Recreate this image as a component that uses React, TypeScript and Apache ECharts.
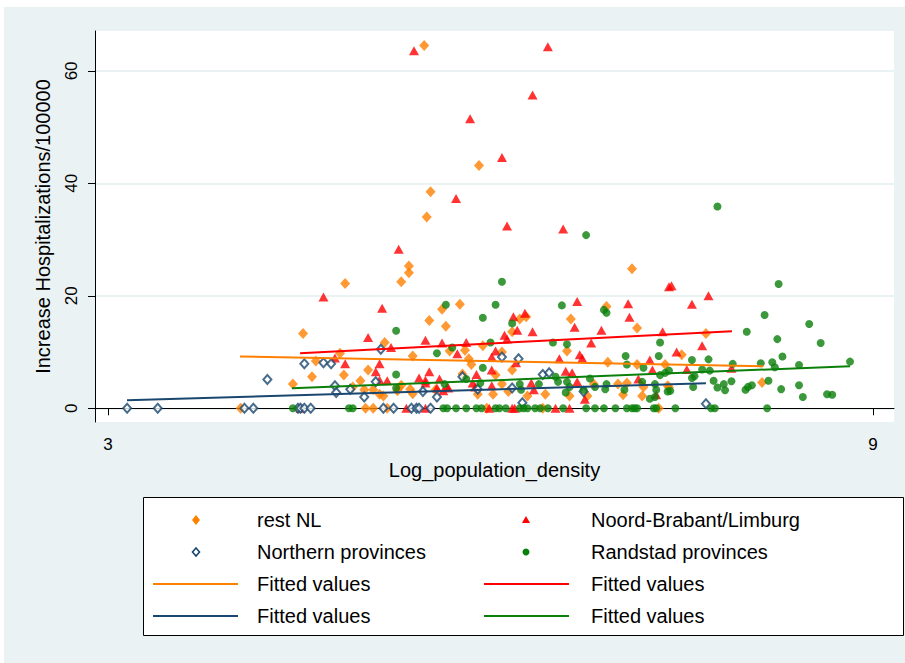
import React, { useEffect, useRef } from "react";
import * as echarts from "echarts";

// ---- data (x = Log_population_density, y = Increase Hospitalizations/100000)
const restNL: number[][] = [
  [5.48, 64.5], [5.91, 43.2], [5.53, 38.5], [5.5, 34.0], [4.86, 22.2], [4.53, 13.3], [4.82, 9.8], [4.63, 8.4],
  [4.6, 5.6], [4.85, 5.9], [4.45, 4.3], [4.04, 0], [5.17, 11.7], [5.04, 6.8], [4.98, 4.9], [4.92, 3.8],
  [5.01, 3.3], [5.08, 3.3], [5.13, 2.5], [5.16, 2.2], [5.27, 3.1], [5.02, 0], [5.08, 0], [5.19, 0],
  [5.36, 25.3], [5.36, 24.1], [5.3, 22.5], [5.76, 18.5], [5.62, 17.6], [5.52, 15.6], [5.65, 14.6], [5.68, 10.2],
  [5.94, 11.1], [5.8, 10.3], [5.39, 9.3], [5.83, 8.8], [5.85, 7.8], [5.78, 6.1], [6.04, 5.9], [6.09, 4.3],
  [5.28, 3.6], [5.57, 3.3], [5.39, 2.6], [5.9, 2.5], [6.02, 2.5], [5.97, 0], [6.17, 6.8], [5.3, 4.1],
  [5.37, 3.4], [6.14, 3.0], [7.11, 24.8], [6.91, 18.1], [6.28, 16.3], [6.23, 15.9], [6.63, 15.9], [7.15, 14.3],
  [6.6, 10.2], [6.92, 8.2], [7.15, 7.8], [7.37, 7.8], [6.29, 2.2], [6.43, 2.5], [6.62, 2.2], [6.81, 4.3],
  [7.0, 4.3], [7.07, 4.5], [7.04, 2.4], [7.19, 2.2], [7.2, 3.8], [7.39, 4.0], [6.41, 0], [7.32, 0],
  [7.69, 13.3], [7.5, 9.5], [8.13, 4.6], [7.4, 3.7], [6.17, 13.6], [6.76, 2.2], [6.09, 10.0]
];
const brabantLimburg: number[][] = [
  [5.4, 63.6], [6.45, 64.3], [6.33, 55.7], [5.84, 51.5], [6.09, 44.6], [5.73, 37.3], [4.69, 19.8], [4.78, 8.95],
  [4.86, 7.9], [5.15, 17.8], [5.04, 12.6], [5.22, 10.8], [5.13, 7.9], [5.1, 6.5], [5.19, 4.9], [5.13, 5.0],
  [6.13, 32.4], [5.28, 28.3], [5.49, 12.1], [5.62, 11.6], [5.81, 11.7], [6.11, 13.0], [6.13, 12.3], [6.04, 10.2],
  [5.74, 9.7], [6.01, 9.1], [5.52, 6.5], [5.44, 5.4], [5.49, 5.0], [5.49, 4.5], [5.6, 5.2], [5.89, 6.0],
  [6.01, 6.8], [5.66, 3.8], [5.86, 4.5], [6.01, 4.0], [5.58, 3.6], [5.63, 3.1], [5.34, 0], [5.49, 0],
  [5.99, 0], [6.18, 16.3], [5.67, 3.6], [5.88, 3.8], [6.57, 31.9], [7.4, 21.6], [6.68, 19.0], [7.08, 18.6],
  [6.27, 16.9], [7.09, 16.2], [6.66, 14.4], [6.21, 13.9], [6.33, 13.6], [6.87, 13.9], [7.35, 13.6], [6.79, 11.6],
  [6.2, 8.1], [6.54, 8.8], [6.7, 9.5], [6.72, 8.9], [7.25, 8.6], [6.59, 6.6], [6.64, 6.3], [7.27, 6.8],
  [6.68, 4.7], [7.16, 5.2], [6.32, 4.5], [6.34, 3.3], [7.3, 2.4], [6.74, 1.6], [6.17, 0], [6.19, 0],
  [6.51, 0], [6.62, 0], [7.42, 21.8], [7.71, 20.0], [7.58, 18.5], [7.66, 11.1], [7.46, 10.0], [7.89, 7.1],
  [7.54, 6.9], [4.51, 0]
];
const northern: number[][] = [
  [4.54, 7.9], [4.69, 8.1], [4.75, 7.9], [4.25, 5.1], [4.78, 4.0], [4.79, 2.8], [3.15, 0], [3.39, 0],
  [4.07, 0], [4.14, 0], [4.49, 0], [4.51, 0], [4.54, 0], [4.59, 0], [5.14, 10.5], [5.1, 4.7],
  [4.9, 3.4], [5.01, 2.0], [5.16, 0], [5.24, 0], [6.09, 9.1], [5.78, 5.6], [5.47, 3.0], [5.58, 2.0],
  [5.38, 0], [5.42, 0], [5.44, 0], [5.53, 0], [5.9, 3.4], [6.17, 3.6], [6.22, 8.8], [6.41, 6.0],
  [6.46, 6.3], [6.73, 3.0], [6.25, 1.0], [7.69, 0.8]
];
const randstad: number[][] = [
  [4.45, 0], [4.89, 0], [4.92, 0], [5.26, 13.8], [5.26, 6.0], [5.26, 3.6], [6.09, 22.5], [5.65, 18.4],
  [6.04, 18.4], [5.94, 16.1], [5.7, 10.8], [6.0, 11.7], [5.58, 9.8], [5.94, 7.2], [5.81, 5.2], [5.64, 4.3],
  [5.92, 4.5], [5.63, 0], [5.66, 0], [5.73, 0], [5.81, 0], [5.89, 0], [5.93, 0], [6.04, 0],
  [6.07, 0], [6.12, 0], [6.17, 15.1], [6.75, 30.8], [6.56, 18.3], [6.89, 17.5], [6.91, 17.0], [6.49, 11.7],
  [6.6, 11.4], [7.33, 11.7], [7.06, 9.3], [7.07, 7.8], [7.32, 9.3], [7.2, 7.2], [6.51, 5.6], [6.53, 4.7],
  [6.6, 4.7], [6.78, 5.3], [7.19, 4.7], [7.33, 5.9], [7.37, 6.3], [6.23, 4.3], [6.24, 3.3], [6.38, 4.3],
  [6.62, 3.8], [6.59, 2.8], [6.73, 3.3], [6.82, 3.8], [6.91, 4.3], [6.9, 3.4], [7.05, 3.3], [7.25, 1.7],
  [7.29, 2.0], [7.29, 4.3], [7.3, 3.3], [7.39, 3.0], [6.23, 0], [6.26, 0], [6.29, 0], [6.35, 0],
  [6.39, 0], [6.45, 0], [6.57, 0], [6.75, 0], [6.82, 0], [6.89, 0], [6.98, 0], [7.07, 0],
  [7.11, 0], [7.15, 0], [7.28, 0], [7.3, 0], [7.78, 35.9], [8.26, 22.1], [8.15, 16.6], [8.5, 15.0],
  [8.01, 13.6], [8.25, 12.3], [8.59, 11.6], [7.58, 8.6], [7.71, 8.7], [8.29, 9.2], [8.12, 8.0], [8.21, 8.2],
  [8.23, 7.3], [8.42, 7.7], [8.82, 8.3], [7.9, 7.9], [7.66, 6.9], [7.72, 6.7], [7.4, 6.7], [7.58, 5.4],
  [7.6, 5.7], [7.75, 4.9], [7.89, 4.8], [7.78, 3.7], [7.83, 4.3], [7.84, 3.2], [8.0, 3.3], [8.02, 3.8],
  [8.05, 4.1], [8.18, 4.9], [8.28, 3.4], [8.42, 4.1], [8.45, 2.0], [8.64, 2.5], [8.68, 2.4], [7.41, 3.1],
  [7.59, 3.8], [7.45, 0], [7.73, 0], [7.76, 0], [8.17, 0], [7.13, 0]
];
// fitted values (end points of each linear fit)
const fitRest: number[][] = [[4.035, 9.2], [8.14, 7.48]];
const fitBrabant: number[][] = [[4.506, 9.8], [7.894, 13.7]];
const fitNorth: number[][] = [[3.149, 1.42], [7.69, 4.45]];
const fitRandstad: number[][] = [[4.443, 3.56], [8.82, 7.48]];

const xTicks = [3, 9];
const yTicks = [0, 20, 40, 60];
const legendLabels = [
  "rest NL", "Noord-Brabant/Limburg", "Northern provinces", "Randstad provinces",
  "Fitted values", "Fitted values", "Fitted values", "Fitted values"
];

const ORANGE = "#FF8000";
const RED = "#FF0000";
const NAVY = "#1A476F";
const GREEN = "#0A800A";
const BG = "#EAF2F3";
const FONT = "Liberation Sans, Arial, sans-serif";

export default function App() {
  const ref = useRef<HTMLDivElement>(null);
  useEffect(() => {
    document.body.style.margin = "0";
    if (!ref.current) return;
    const chart = echarts.init(ref.current, null, { renderer: "svg" });

    const legendX1 = 196, legendX2 = 526, textX1 = 257, textX2 = 591;
    const rows = [520, 552, 584, 616];
    const legendText = (i: number, x: number, y: number) => ({
      type: "text", x, y,
      style: { text: legendLabels[i], fontSize: 20, fontFamily: FONT, fill: "#000", textVerticalAlign: "middle", textAlign: "left" }
    });

    const option: any = {
      animation: false,
      backgroundColor: "#fff",
      textStyle: { fontFamily: FONT },
      graphic: [
        { type: "rect", z: -10, silent: true, shape: { x: 4, y: 7, width: 901, height: 656 }, style: { fill: BG } },
        { type: "rect", shape: { x: 143.5, y: 497.5, width: 760, height: 138 }, style: { fill: "#fff", stroke: "#000", lineWidth: 1 } },
        { type: "polygon", shape: { points: [[legendX1, rows[0] - 5], [legendX1 + 4, rows[0]], [legendX1, rows[0] + 5], [legendX1 - 4, rows[0]]] }, style: { fill: ORANGE } },
        { type: "polygon", shape: { points: [[legendX2, rows[0] - 4], [legendX2 + 4, rows[0] + 3], [legendX2 - 4, rows[0] + 3]] }, style: { fill: RED } },
        { type: "polygon", shape: { points: [[legendX1, rows[1] - 4], [legendX1 + 3.5, rows[1]], [legendX1, rows[1] + 4], [legendX1 - 3.5, rows[1]]] }, style: { fill: "#fff", stroke: NAVY, lineWidth: 1.6 } },
        { type: "circle", shape: { cx: legendX2, cy: rows[1], r: 3.5 }, style: { fill: GREEN } },
        { type: "line", shape: { x1: 153, y1: rows[2], x2: 238, y2: rows[2] }, style: { stroke: ORANGE, lineWidth: 2 } },
        { type: "line", shape: { x1: 484, y1: rows[2], x2: 569, y2: rows[2] }, style: { stroke: RED, lineWidth: 2 } },
        { type: "line", shape: { x1: 153, y1: rows[3], x2: 238, y2: rows[3] }, style: { stroke: NAVY, lineWidth: 2 } },
        { type: "line", shape: { x1: 484, y1: rows[3], x2: 569, y2: rows[3] }, style: { stroke: GREEN, lineWidth: 2 } },
        legendText(0, textX1, rows[0]), legendText(1, textX2, rows[0]),
        legendText(2, textX1, rows[1]), legendText(3, textX2, rows[1]),
        legendText(4, textX1, rows[2]), legendText(5, textX2, rows[2]),
        legendText(6, textX1, rows[3]), legendText(7, textX2, rows[3])
      ],
      grid: { left: 95, top: 31, width: 799, height: 391, show: true, backgroundColor: "#fff", borderWidth: 0, containLabel: false },
      xAxis: {
        type: "value", min: 2.898, max: 9.165,
        name: "Log_population_density", nameLocation: "middle", nameGap: 38,
        nameTextStyle: { fontSize: 20, color: "#000", fontFamily: FONT },
        axisLine: { show: true, lineStyle: { color: "#000", width: 1 } },
        axisTick: { show: true, customValues: xTicks, length: 7, lineStyle: { color: "#000" } },
        axisLabel: { customValues: xTicks, fontSize: 17, color: "#000", margin: 14, fontFamily: FONT },
        splitLine: { show: false }
      },
      yAxis: {
        type: "value", min: -2.44, max: 67.1,
        name: "Increase Hospitalizations/100000", nameLocation: "middle", nameGap: 42,
        nameTextStyle: { fontSize: 20, color: "#000", fontFamily: FONT },
        axisLine: { show: true, lineStyle: { color: "#000", width: 1 } },
        axisTick: { show: true, customValues: yTicks, length: 7, lineStyle: { color: "#000" } },
        axisLabel: { customValues: yTicks, fontSize: 17, color: "#000", rotate: 90, margin: 15, fontFamily: FONT },
        splitLine: { show: true, lineStyle: { color: BG, width: 2 } }
      },
      series: [
        { name: "rest NL", type: "scatter", data: restNL, symbol: "diamond", symbolSize: [10, 11], itemStyle: { color: ORANGE } },
        { name: "Noord-Brabant/Limburg", type: "scatter", data: brabantLimburg, symbol: "triangle", symbolSize: [10, 9], itemStyle: { color: RED } },
        { name: "Northern provinces", type: "scatter", data: northern, symbol: "diamond", symbolSize: [8, 9], itemStyle: { color: "#fff", borderColor: NAVY, borderWidth: 2 } },
        { name: "Randstad provinces", type: "scatter", data: randstad, symbol: "circle", symbolSize: 8, itemStyle: { color: GREEN } },
        { name: "Fitted values", type: "line", data: fitRest, symbol: "none", lineStyle: { color: ORANGE, width: 2 } },
        { name: "Fitted values", type: "line", data: fitBrabant, symbol: "none", lineStyle: { color: RED, width: 2 } },
        { name: "Fitted values", type: "line", data: fitNorth, symbol: "none", lineStyle: { color: NAVY, width: 2 } },
        { name: "Fitted values", type: "line", data: fitRandstad, symbol: "none", lineStyle: { color: GREEN, width: 2 } }
      ]
    };
    chart.setOption(option);
    return () => chart.dispose();
  }, []);
  return <div ref={ref} style={{ width: 905, height: 663 }} />;
}
